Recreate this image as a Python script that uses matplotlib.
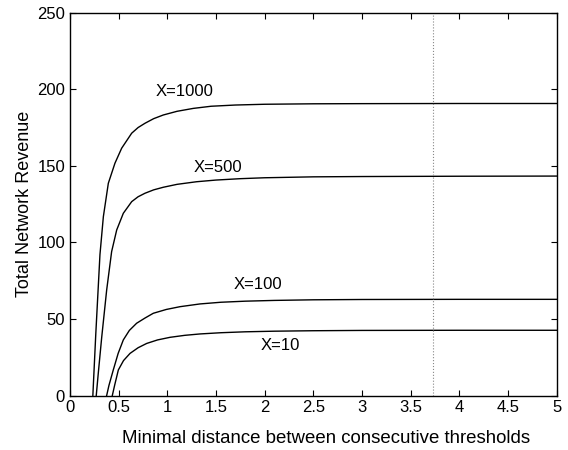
import numpy as np
import matplotlib
matplotlib.use("Agg")
import matplotlib.pyplot as plt

plt.rcParams['font.family'] = ['Liberation Sans', 'DejaVu Sans']

# values
x_1000 = [0.235, 0.250, 0.265, 0.284, 0.308, 0.343, 0.394, 0.462, 0.531, 0.634, 0.700,
          0.771, 0.860, 0.959, 1.10, 1.267, 1.45, 1.70, 2.00, 2.50, 3.00, 4.00, 5.00]
y_1000 = [0.0, 20.0, 40.0, 63.0, 92.0, 116.8, 138.6, 151.7, 161.5, 171.3, 175.0,
          177.8, 180.8, 183.2, 185.6, 187.5, 188.9, 189.7, 190.2, 190.5, 190.6, 190.7, 190.7]

x_500 = [0.270, 0.290, 0.326, 0.377, 0.428, 0.480, 0.548, 0.634, 0.700, 0.771,
         0.860, 0.959, 1.10, 1.30, 1.50, 1.75, 2.00, 2.50, 3.00, 4.00, 5.00]
y_500 = [0.0, 14.0, 38.0, 68.9, 94.0, 108.1, 119.0, 126.6, 129.8, 132.1,
         134.3, 136.0, 137.9, 139.6, 140.7, 141.6, 142.2, 142.8, 143.0, 143.2, 143.3]

x_100 = [0.377, 0.400, 0.445, 0.495, 0.548, 0.610, 0.685, 0.771, 0.856, 0.990, 1.13,
         1.336, 1.55, 1.80, 2.10, 2.50, 3.00, 4.00, 5.00]
y_100 = [0.0, 6.5, 16.7, 27.5, 36.3, 42.5, 47.2, 50.6, 53.7, 56.2, 58.0,
         59.8, 60.9, 61.6, 62.1, 62.5, 62.7, 62.8, 62.8]

x_10 = [0.435, 0.460, 0.497, 0.550, 0.617, 0.700, 0.788, 0.900, 1.028, 1.18, 1.336,
        1.55, 1.80, 2.10, 2.50, 3.00, 4.00, 5.00]
y_10 = [0.0, 7.0, 16.7, 22.8, 27.5, 31.2, 34.0, 36.3, 38.0, 39.3, 40.2,
        41.0, 41.6, 42.0, 42.3, 42.5, 42.6, 42.6]

marker_x = 3.728

labels = ['X=1000', 'X=500', 'X=100', 'X=10']
label_x = [1.18, 1.52, 1.93, 2.16]
label_y = [198.4, 148.8, 72.2, 32.5]

fig = plt.figure(figsize=(5.68, 4.5), dpi=100)
ax = fig.add_axes([0.1232, 0.1211, 0.8568, 0.8507])

for xs, ys in [(x_1000, y_1000), (x_500, y_500), (x_100, y_100), (x_10, y_10)]:
    ax.plot(xs, ys, color='black', linewidth=1.0)

ax.axvline(marker_x, color='#888888', linestyle=':', linewidth=0.8)

for t, tx, ty in zip(labels, label_x, label_y):
    ax.text(tx, ty, t, ha='center', va='center', fontsize=12)

ax.set_xlim(0, 5)
ax.set_ylim(0, 250)
ax.set_xticks(np.arange(0, 5.01, 0.5))
ax.set_xticklabels(['0', '0.5', '1', '1.5', '2', '2.5', '3', '3.5', '4', '4.5', '5'])
ax.set_yticks(np.arange(0, 251, 50))
ax.tick_params(direction='in', top=True, right=True, length=4, width=0.8, labelsize=12)
for s in ax.spines.values():
    s.set_linewidth(1.0)

ax.set_xlabel('Minimal distance between consecutive thresholds', fontsize=13.4, va='center')
ax.set_ylabel('Total Network Revenue', fontsize=13, va='center')
ax.xaxis.set_label_coords(0.526, -0.112)
ax.yaxis.set_label_coords(-0.093, 0.5)

fig.savefig('out.png', dpi=100)
